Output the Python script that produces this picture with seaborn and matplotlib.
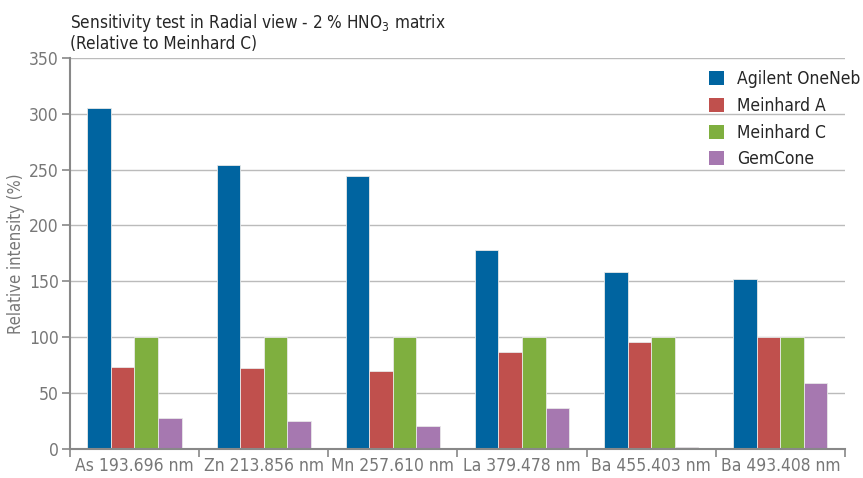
import matplotlib
matplotlib.use("Agg")
import matplotlib.pyplot as plt
import seaborn as sns
import pandas as pd

lines = ["As 193.696 nm", "Zn 213.856 nm", "Mn 257.610 nm",
         "La 379.478 nm", "Ba 455.403 nm", "Ba 493.408 nm"]
nebulizers = ["Agilent OneNeb", "Meinhard A", "Meinhard C", "GemCone"]
oneneb = [305, 254, 244, 178, 158, 152]
meinhard_a = [73, 72, 70, 87, 96, 100]
meinhard_c = [100, 100, 100, 100, 100, 100]
gemcone = [28, 25, 20, 37, 1.5, 59]
colors = ["#0064A0", "#C0504D", "#7FAF3F", "#A678B0"]

df = pd.DataFrame({"line": lines * 4,
                   "neb": sum([[n] * len(lines) for n in nebulizers], []),
                   "val": oneneb + meinhard_a + meinhard_c + gemcone})

sns.set_style("white")
plt.rcParams['font.family'] = ['DejaVu Sans']
plt.rcParams['font.stretch'] = 'condensed'

fig, ax = plt.subplots(figsize=(8.63, 4.78), dpi=100)
fig.subplots_adjust(left=0.081, right=0.979, top=0.879, bottom=0.061)

sns.barplot(data=df, x="line", y="val", hue="neb", hue_order=nebulizers,
            palette=colors, width=0.73, saturation=1, ax=ax,
            edgecolor="#E8E8E8", linewidth=0.6)

ax.set_ylim(0, 350)
ax.set_yticks(range(0, 351, 50))
ax.set_xlim(-0.5, 5.5)
ax.yaxis.grid(True, color="#BBBBBB", linewidth=1)
ax.set_axisbelow(True)
ax.set_xlabel("")
ax.set_ylabel("Relative intensity (%)", color="#777777", fontsize=12, labelpad=3)

# x ticks at category boundaries, labels in between
ax.set_xticks([i - 0.5 for i in range(7)], minor=False)
ax.set_xticklabels([])
ax.set_xticks(range(6), minor=True)
ax.set_xticklabels(lines, minor=True)
ax.tick_params(axis="x", which="major", bottom=True, length=6, width=1.2,
               color="#888888", direction="out")
ax.tick_params(axis="x", which="minor", bottom=False, length=0, labelsize=12.5,
               labelcolor="#777777", pad=6)
ax.tick_params(axis="y", left=True, length=6, width=1.2, color="#888888", direction="out",
               labelsize=12.5, labelcolor="#777777", pad=2)

for s in ["top", "right"]:
    ax.spines[s].set_visible(False)
for s in ["left", "bottom"]:
    ax.spines[s].set_color("#888888")
    ax.spines[s].set_linewidth(1.5)
    ax.spines[s].set_zorder(5)

leg = ax.legend(loc="upper right", bbox_to_anchor=(1.04, 1.008), frameon=False,
                fontsize=12.5, handlelength=0.85, handleheight=0.85,
                labelspacing=0.5, handletextpad=0.75)
for h in leg.legend_handles:
    h.set_edgecolor("none")

fig.text(0.081, 0.975, "Sensitivity test in Radial view - 2 % HNO$_3$ matrix\n(Relative to Meinhard C)",
         fontsize=12.3, ha="left", va="top", linespacing=1.1)

fig.savefig("out.png", dpi=100)
